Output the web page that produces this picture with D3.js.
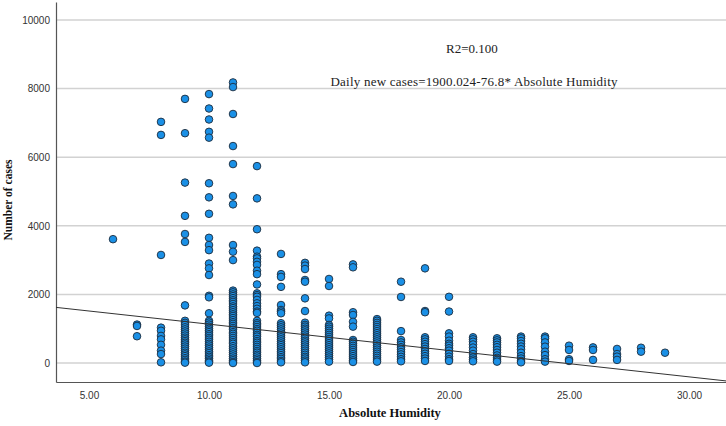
<!DOCTYPE html>
<html>
<head>
<meta charset="utf-8">
<script src="https://cdn.jsdelivr.net/npm/d3@7"></script>
<style>
  body { margin: 0; background: #fff; }
  svg { display: block; }
</style>
</head>
<body>
<script>
var width = 726;
var height = 426;

// humidity values (x) and the daily cases seen at each one
var humidity = [6, 7, 8, 9, 10, 11, 12, 13, 14, 15, 16, 17, 18, 19, 20, 21, 22, 23, 24, 25, 26, 27, 28, 29];
var cases6 = [3610];
var cases7 = [1120, 1080, 780];
var cases8 = [7030, 6650, 3150, 1030, 940, 790, 690, 530, 360, 260, 20];
var cases9 = [7700, 6700, 5260, 4290, 3760, 3530, 1680, 1230, 1170, 1110, 1040, 980, 920, 860, 800, 740, 690, 640, 590, 540, 480, 420, 360, 300, 250, 200, 140, 90, 40, 10];
var cases10 = [7840, 7420, 7100, 6740, 6570, 5240, 4830, 4350, 3650, 3440, 3290, 2900, 2760, 2565, 1960, 1915, 1450, 1230, 1180, 1120, 1060, 1000, 950, 900, 840, 790, 730, 680, 620, 560, 510, 450, 400, 340, 290, 230, 180, 130, 80, 40, 10];
var cases11 = [8180, 8045, 7260, 6325, 5800, 4870, 4625, 3440, 3245, 3000, 2110, 2060, 2000, 1950, 1890, 1830, 1780, 1720, 1650, 1600, 1540, 1480, 1420, 1370, 1310, 1250, 1190, 1140, 1080, 1020, 970, 900, 850, 790, 730, 670, 610, 560, 490, 430, 370, 310, 250, 190, 130, 80, 30, 0];
var cases12 = [5740, 4800, 3900, 3275, 3100, 3050, 2950, 2860, 2690, 2590, 2290, 2030, 1980, 1930, 1840, 1740, 1660, 1580, 1500, 1460, 1230, 1160, 1110, 1050, 990, 940, 880, 820, 770, 700, 640, 590, 530, 470, 410, 350, 300, 240, 190, 130, 80, 30, 0];
var cases13 = [3180, 2590, 2510, 2220, 1690, 1545, 1500, 1450, 1160, 1100, 1040, 980, 920, 860, 810, 750, 690, 630, 570, 520, 460, 400, 340, 290, 230, 170, 120, 60, 20];
var cases14 = [2920, 2840, 2740, 2420, 2370, 1885, 1515, 1175, 1110, 1060, 1000, 950, 890, 830, 770, 710, 650, 600, 540, 480, 420, 360, 300, 240, 180, 130, 70, 20];
var cases15 = [2450, 2245, 1380, 1300, 1110, 1060, 1000, 940, 880, 820, 760, 700, 640, 580, 520, 460, 400, 340, 280, 220, 160, 100, 40];
var cases16 = [2875, 2790, 1480, 1400, 1200, 1060, 670, 620, 560, 500, 440, 380, 320, 260, 200, 140, 80, 30];
var cases17 = [1280, 1230, 1170, 1110, 1050, 990, 930, 870, 810, 750, 690, 630, 570, 510, 450, 390, 330, 270, 210, 150, 90, 40];
var cases18 = [2370, 1925, 930, 670, 600, 530, 460, 390, 320, 250, 180, 110, 50];
var cases19 = [2760, 1515, 1480, 750, 690, 620, 550, 480, 410, 340, 270, 200, 130, 60];
var cases20 = [1930, 1500, 865, 770, 650, 560, 505, 430, 360, 270, 185, 110, 60];
var cases21 = [750, 690, 620, 540, 450, 360, 260, 160, 100, 50];
var cases22 = [720, 660, 600, 530, 460, 380, 300, 220, 150, 90, 40];
var cases23 = [770, 720, 640, 560, 480, 400, 300, 200, 130, 60, 20];
var cases24 = [770, 720, 600, 475, 330, 230, 110, 40];
var cases25 = [505, 380, 110, 60];
var cases26 = [455, 380, 90];
var cases27 = [410, 260, 185, 90];
var cases28 = [445, 330];
var cases29 = [300];
var casesByHumidity = [cases6, cases7, cases8, cases9, cases10, cases11, cases12, cases13, cases14, cases15,
  cases16, cases17, cases18, cases19, cases20, cases21, cases22, cases23, cases24, cases25, cases26, cases27, cases28, cases29];

var yTicks = [0, 2000, 4000, 6000, 8000, 10000];
var xTicks = [5, 10, 15, 20, 25, 30];

// fit line: Daily new cases = 1900.024 - 76.8 * humidity
var intercept = 1900.024;
var slope = -76.8;

var points = [];
humidity.forEach(function(h, i) {
  casesByHumidity[i].forEach(function(c) { points.push({ x: h, y: c }); });
});

// plot box (window.top is taken, so no plain "top")
var plotLeft = 56, plotRight = 726, plotTop = 2, plotBottom = 382;

var x = d3.scaleLinear().domain([3.625, 31.54]).range([plotLeft, plotRight]);
var y = d3.scaleLinear().domain([-554, 10525]).range([plotBottom, plotTop]);

var svg = d3.select('body').append('svg').attr('width', width).attr('height', height);

// grid lines
svg.append('g')
  .selectAll('line')
  .data(yTicks)
  .enter().append('line')
  .attr('x1', plotLeft + 1).attr('x2', plotRight)
  .attr('y1', function(d) { return y(d); }).attr('y2', function(d) { return y(d); })
  .attr('stroke', '#d2d2d2').attr('stroke-width', 1.5);

// y axis
var yAxis = svg.append('g')
  .attr('transform', 'translate(' + plotLeft + ',0)')
  .call(d3.axisLeft(y).tickValues(yTicks).tickSize(0).tickPadding(6).tickFormat(d3.format('d')));
yAxis.select('.domain').attr('stroke', '#555').attr('stroke-width', 1.2);
yAxis.selectAll('text').attr('font-family', 'Liberation Sans, Arial, sans-serif').attr('font-size', 10).attr('fill', '#333');

// x axis
var xAxis = svg.append('g')
  .attr('transform', 'translate(0,' + plotBottom + ')')
  .call(d3.axisBottom(x).tickValues(xTicks).tickSize(0).tickPadding(10).tickFormat(d3.format('.2f')));
xAxis.select('.domain').attr('stroke', '#555').attr('stroke-width', 1.2);
xAxis.selectAll('text').attr('font-family', 'Liberation Sans, Arial, sans-serif').attr('font-size', 10).attr('fill', '#333');

// points
svg.append('g')
  .selectAll('circle')
  .data(points)
  .enter().append('circle')
  .attr('cx', function(d) { return x(d.x); })
  .attr('cy', function(d) { return y(d.y); })
  .attr('r', 3.8)
  .attr('fill', '#1a90e6')
  .attr('stroke', '#1c2b3c')
  .attr('stroke-width', 0.9);

// regression line
var xd = x.domain();
svg.append('line')
  .attr('x1', x(xd[0])).attr('y1', y(intercept + slope * xd[0]))
  .attr('x2', x(xd[1])).attr('y2', y(intercept + slope * xd[1]))
  .attr('stroke', '#333').attr('stroke-width', 1);

// labels
svg.append('text')
  .attr('x', 390).attr('y', 417)
  .attr('text-anchor', 'middle')
  .attr('font-family', 'Liberation Serif, serif').attr('font-weight', 'bold').attr('font-size', 12.5)
  .attr('fill', '#111')
  .text('Absolute Humidity');

svg.append('text')
  .attr('transform', 'translate(12,200) rotate(-90)')
  .attr('text-anchor', 'middle')
  .attr('font-family', 'Liberation Serif, serif').attr('font-weight', 'bold').attr('font-size', 11.5)
  .attr('fill', '#111')
  .text('Number of cases');

svg.append('text')
  .attr('x', 472).attr('y', 53)
  .attr('text-anchor', 'middle')
  .attr('font-family', 'Liberation Serif, serif').attr('font-size', 13)
  .attr('fill', '#222')
  .text('R2=0.100');

svg.append('text')
  .attr('x', 474).attr('y', 86)
  .attr('text-anchor', 'middle')
  .attr('font-family', 'Liberation Serif, serif').attr('font-size', 13)
  .attr('fill', '#222')
  .attr('textLength', 287).attr('lengthAdjust', 'spacing')
  .text('Daily new cases=1900.024-76.8* Absolute Humidity');
</script>
</body>
</html>
